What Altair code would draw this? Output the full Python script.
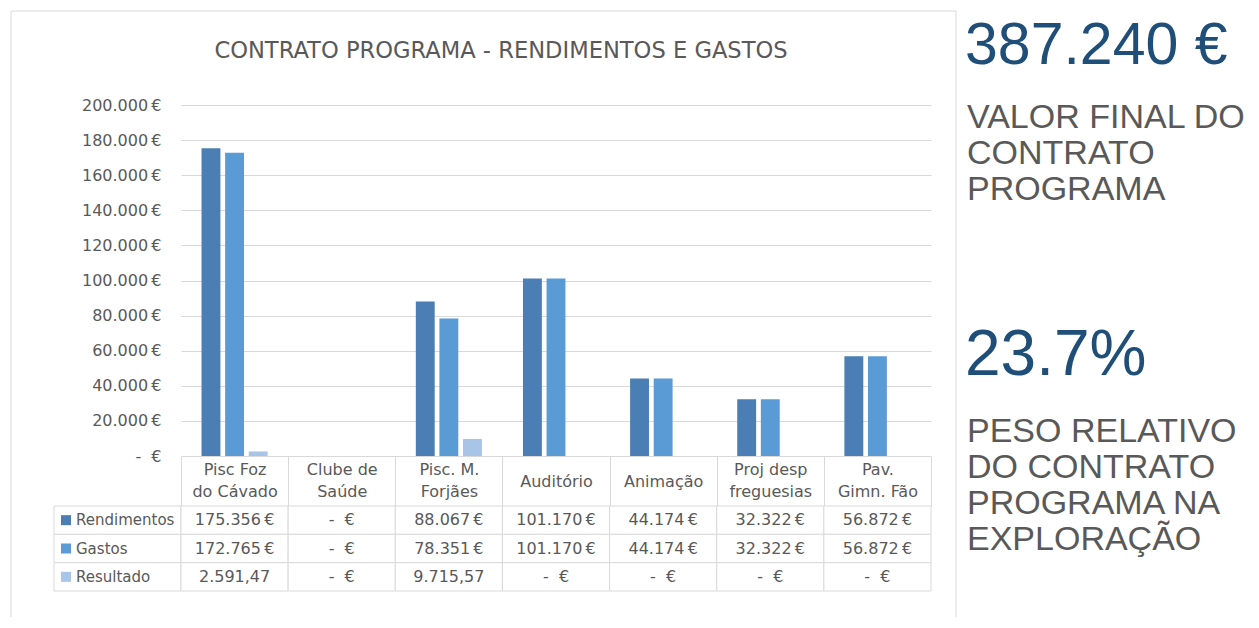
import altair as alt
import pandas as pd

# ---------------- data ----------------
title_text = "CONTRATO PROGRAMA - RENDIMENTOS E GASTOS"
categories = ["Pisc Foz\ndo Cávado", "Clube de\nSaúde", "Pisc. M.\nForjães", "Auditório",
              "Animação", "Proj desp\nfreguesias", "Pav.\nGimn. Fão"]
series = ["Rendimentos", "Gastos", "Resultado"]
rendimentos = [175356, 0, 88067, 101170, 44174, 32322, 56872]
gastos = [172765, 0, 78351, 101170, 44174, 32322, 56872]
resultado = [2591.47, 0, 9715.57, 0, 0, 0, 0]
y_ticks = [0, 20000, 40000, 60000, 80000, 100000, 120000, 140000, 160000, 180000, 200000]
series_colors = ["#4a7eb4", "#5b9bd5", "#a8c4e6"]

kpi_value_1 = "387.240 €"
kpi_label_1 = ["VALOR FINAL DO", "CONTRATO", "PROGRAMA"]
kpi_value_2 = "23.7%"
kpi_label_2 = ["PESO RELATIVO", "DO CONTRATO", "PROGRAMA NA", "EXPLORAÇÃO"]

# ---------------- styles ----------------
TEXT = "#595959"
GRID = "#d9d9d9"
BLUE = "#1f4e79"
FONT = "DejaVu Sans"
KFONT = "Liberation Sans"
ZERO = "-\u00a0\u00a0€"


def fmt_eur(v):
    if v == 0:
        return ZERO
    return f"{v:,.0f}".replace(",", ".") + "\u2009€"


def fmt_dec(v):
    if v == 0:
        return ZERO
    s = f"{v:,.2f}"
    return s.replace(",", "X").replace(".", ",").replace("X", ".")


rows = []
for s, vals in zip(series, [rendimentos, gastos, resultado]):
    for c, v in zip(categories, vals):
        rows.append({"cat": c, "series": s, "value": v,
                     "label": fmt_dec(v) if s == "Resultado" else fmt_eur(v)})
df = pd.DataFrame(rows)
legend_df = pd.DataFrame({"series": series})
one = pd.DataFrame({"k": [0]})

color_enc = alt.Color("series:N", sort=series,
                      scale=alt.Scale(domain=series, range=series_colors), legend=None)

# ---------------- bar chart ----------------
y_label_expr = ("datum.value == 0 ? '" + ZERO + "' : "
                "replace(format(datum.value, ',.0f'), ',', '.') + '\u2009€'")

header_padding = {"condition": {"test": "indexof(datum.label, '\\n') >= 0", "value": -37},
                  "value": -25}

bars = alt.Chart(df).mark_bar().encode(
    x=alt.X("cat:N", sort=categories,
            scale=alt.Scale(paddingInner=0, paddingOuter=0),
            axis=alt.Axis(title=None, labelExpr="split(datum.label, '\\n')", labelAngle=0,
                          tickBand="extent", tickSize=50, tickColor=GRID, tickWidth=1,
                          domain=False, labelPadding=header_padding, labelBaseline="middle",
                          labelFont=FONT, labelFontSize=16, labelColor=TEXT,
                          labelLineHeight=22)),
    xOffset=alt.XOffset("series:N", sort=series,
                        scale=alt.Scale(paddingInner=0.2, paddingOuter=0.87)),
    y=alt.Y("value:Q", scale=alt.Scale(domain=[0, 200000], nice=False),
            axis=alt.Axis(title=None, values=y_ticks, labelExpr=y_label_expr,
                          domain=False, ticks=False, grid=True, gridColor=GRID,
                          gridWidth=1, labelPadding=20, labelFont=FONT,
                          labelFontSize=16, labelColor=TEXT)),
    color=color_enc,
)

frame = alt.Chart(one)
border_left = frame.mark_rule(color=GRID, strokeWidth=1).encode(
    x=alt.value(-170), y=alt.value(-94), y2=alt.value(512))
border_right = frame.mark_rule(color=GRID, strokeWidth=1).encode(
    x=alt.value(775), y=alt.value(-94), y2=alt.value(512))
border_top = frame.mark_rule(color=GRID, strokeWidth=1).encode(
    x=alt.value(-170), x2=alt.value(775), y=alt.value(-94))

title_mark = frame.mark_text(text=title_text, font=FONT, fontSize=22.6, color=TEXT,
                             align="center", baseline="alphabetic").encode(
    x=alt.value(320), y=alt.value(-47))

k1 = frame.mark_text(text=kpi_value_1, font=KFONT, fontSize=59, color=BLUE,
                     align="left", baseline="alphabetic").encode(
    x=alt.value(784), y=alt.value(-41))
k1l = frame.mark_text(text=kpi_label_1, font=KFONT, fontSize=34, lineHeight=36,
                      color=TEXT, align="left", baseline="alphabetic").encode(
    x=alt.value(786), y=alt.value(23))
k2 = frame.mark_text(text=kpi_value_2, font=KFONT, fontSize=64, color=BLUE,
                     align="left", baseline="alphabetic").encode(
    x=alt.value(784), y=alt.value(270))
k2l = frame.mark_text(text=kpi_label_2, font=KFONT, fontSize=34, lineHeight=36,
                      color=TEXT, align="left", baseline="alphabetic").encode(
    x=alt.value(786), y=alt.value(337))

top = alt.layer(border_left, border_right, border_top, bars, title_mark,
                k1, k1l, k2, k2l).properties(width=750, height=351)

# ---------------- data table ----------------
x_tab = alt.X("cat:N", sort=categories, scale=alt.Scale(paddingInner=0, paddingOuter=0),
              axis=None)
y_tab = alt.Y("series:N", sort=series, scale=alt.Scale(paddingInner=0, paddingOuter=0),
              axis=None)

cells = alt.Chart(df).mark_rect(fill="white", stroke=GRID, strokeWidth=1).encode(
    x=x_tab, y=y_tab)
cell_text = alt.Chart(df).mark_text(font=FONT, fontSize=16, color=TEXT,
                                    baseline="middle").encode(
    x=x_tab, y=y_tab, text="label:N")

leg_cells = alt.Chart(legend_df).mark_rect(fill="white", stroke=GRID, strokeWidth=1).encode(
    x=alt.value(-127), x2=alt.value(0), y=y_tab)
leg_sq = alt.Chart(legend_df).mark_square(size=100, opacity=1).encode(
    x=alt.value(-115), y=y_tab, color=color_enc)
leg_txt = alt.Chart(legend_df).mark_text(align="left", baseline="middle", font=FONT,
                                         fontSize=15, color=TEXT).encode(
    x=alt.value(-105), y=y_tab, text="series:N")

table = alt.layer(leg_cells, cells, cell_text, leg_sq, leg_txt).properties(
    width=750, height=85)

chart = alt.vconcat(top, table, spacing=50, bounds="flush").properties(
    padding={"left": 2, "top": 2, "right": 0, "bottom": 0}
).configure_view(strokeWidth=0)

chart.save("out.html", embed_options={"renderer": "svg", "actions": False})
